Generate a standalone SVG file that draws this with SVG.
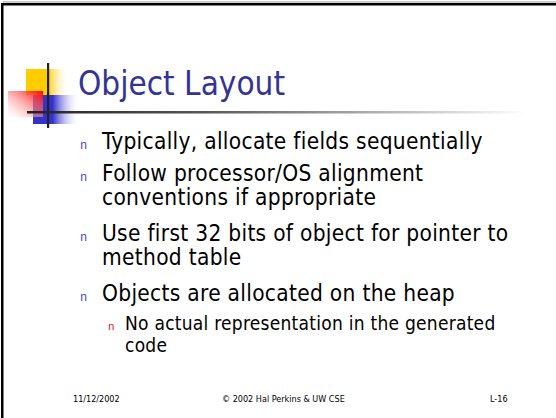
<svg xmlns="http://www.w3.org/2000/svg" width="556" height="418" viewBox="0 0 556 418">
  <defs>
    <linearGradient id="gYellow" x1="0" y1="0" x2="1" y2="0">
      <stop offset="0" stop-color="#FFCC00"/>
      <stop offset="0.5" stop-color="#FFCC00"/>
      <stop offset="1" stop-color="#FFFFFF" stop-opacity="0"/>
    </linearGradient>
    <linearGradient id="gBlue" x1="0" y1="0" x2="1" y2="0">
      <stop offset="0" stop-color="#3333CC"/>
      <stop offset="0.42" stop-color="#3333CC"/>
      <stop offset="1" stop-color="#FFFFFF" stop-opacity="0"/>
    </linearGradient>
    <linearGradient id="gRed" x1="1" y1="0" x2="0" y2="1">
      <stop offset="0" stop-color="#FF0000"/>
      <stop offset="1" stop-color="#FFFFFF" stop-opacity="0.3"/>
    </linearGradient>
    <linearGradient id="gRule" x1="0" y1="0" x2="1" y2="0">
      <stop offset="0" stop-color="#222222"/>
      <stop offset="0.35" stop-color="#555555"/>
      <stop offset="1" stop-color="#FFFFFF"/>
    </linearGradient>
  </defs>
  <style>
    .title { font-family: Tahoma, "DejaVu Sans Condensed", "DejaVu Sans", sans-serif; font-stretch: condensed; font-size: 33px; fill: #333399; }
    .body { font-family: Tahoma, "DejaVu Sans Condensed", "DejaVu Sans", sans-serif; font-stretch: condensed; font-size: 22.5px; letter-spacing: 0.3px; fill: #000000; }
    .sub { font-family: Tahoma, "DejaVu Sans Condensed", "DejaVu Sans", sans-serif; font-stretch: condensed; font-size: 19px; letter-spacing: 0.25px; fill: #000000; }
    .mark { font-family: "Liberation Mono", monospace; font-size: 12px; fill: #4444DD; }
    .mark2 { font-family: "Liberation Mono", monospace; font-size: 11px; fill: #DD2222; }
    .foot { font-family: Tahoma, "DejaVu Sans Condensed", "DejaVu Sans", sans-serif; font-stretch: condensed; font-size: 9px; fill: #000000; }
  </style>

  <!-- slide frame -->
  <rect x="0" y="0" width="556" height="418" fill="#FFFFFF"/>
  <rect x="3" y="1.5" width="553" height="1" fill="#999999"/>
  <rect x="1" y="3" width="555" height="2.5" fill="#000000"/>
  <rect x="1" y="3" width="2.5" height="415" fill="#000000"/>

  <!-- corner emblem -->
  <g id="emblem">
    <rect x="26" y="69" width="43" height="26" fill="url(#gYellow)"/>
    <rect x="33" y="95" width="47" height="29" fill="url(#gBlue)"/>
    <rect x="8" y="91" width="35" height="26" fill="url(#gRed)"/>
    <rect x="47" y="63" width="2.2" height="65" fill="#222222"/>
    <rect x="27" y="111" width="500" height="2.5" fill="url(#gRule)"/>
  </g>

  <!-- title -->
  <text class="title" x="78" y="95">Object Layout</text>

  <!-- bullets (wrapped lines kept as tspans of one paragraph) -->
  <g id="bullets">
    <text class="mark" x="80" y="149">n</text>
    <text class="body" x="102" y="149">Typically, allocate fields sequentially</text>

    <text class="mark" x="80" y="181">n</text>
    <text class="body" x="102" y="181">Follow processor/OS alignment<tspan x="102" dy="24">conventions if appropriate</tspan></text>

    <text class="mark" x="80" y="241">n</text>
    <text class="body" x="102" y="241">Use first 32 bits of object for pointer to<tspan x="102" dy="24">method table</tspan></text>

    <text class="mark" x="80" y="301">n</text>
    <text class="body" x="102" y="301">Objects are allocated on the heap</text>

    <text class="mark2" x="108" y="330">n</text>
    <text class="sub" x="125" y="330">No actual representation in the generated<tspan x="125" dy="22">code</tspan></text>
  </g>

  <!-- footer -->
  <g id="footer">
    <text class="foot" x="73" y="402">11/12/2002</text>
    <text class="foot" x="222" y="402">© 2002 Hal Perkins &amp; UW CSE</text>
    <text class="foot" x="490" y="402">L-16</text>
  </g>
</svg>
